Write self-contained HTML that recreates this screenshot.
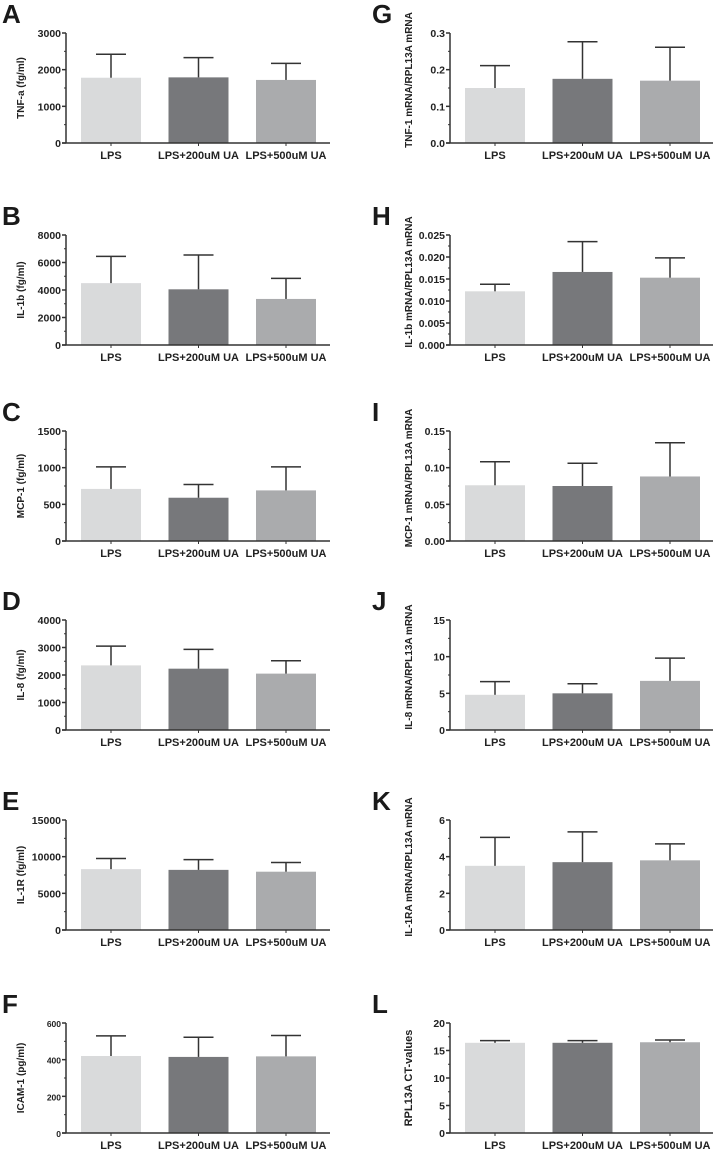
<!DOCTYPE html>
<html><head><meta charset="utf-8">
<style>
html,body{margin:0;padding:0;background:#fff;}
svg{display:block;font-family:"Liberation Sans",Arial,sans-serif;font-weight:bold;}
</style></head>
<body>
<svg id="fig" width="713" height="1149" viewBox="0 0 713 1149" xmlns="http://www.w3.org/2000/svg"></svg>
<script>
const categories = ["LPS", "LPS+200uM UA", "LPS+500uM UA"];
const panelLetters = ["A","B","C","D","E","F","G","H","I","J","K","L"];
const yTitles = ["TNF-a  (fg/ml)","IL-1b (fg/ml)","MCP-1  (fg/ml)","IL-8  (fg/ml)","IL-1R (fg/ml)","ICAM-1 (pg/ml)",
  "TNF-1 mRNA/RPL13A mRNA","IL-1b mRNA/RPL13A mRNA","MCP-1 mRNA/RPL13A mRNA","IL-8 mRNA/RPL13A mRNA","IL-1RA mRNA/RPL13A mRNA","RPL13A CT-values"];
const yMax = [3000,8000,1500,4000,15000,600,0.3,0.025,0.15,15,6,20];
const yStep = [1000,2000,500,1000,5000,200,0.1,0.005,0.05,5,2,5];
const tickDecimals = [0,0,0,0,0,0,1,3,2,0,0,0];
const means = [
  [1780,1790,1720],[4500,4050,3350],[710,590,690],[2350,2230,2050],[8300,8200,7950],[420,415,418],
  [0.150,0.175,0.170],[0.0122,0.0166,0.0153],[0.076,0.075,0.088],[4.8,5.0,6.7],[3.5,3.7,3.8],[16.4,16.4,16.5]];
const errTops = [
  [2420,2330,2170],[6450,6550,4850],[1010,770,1010],[3050,2930,2520],[9750,9600,9200],[530,522,532],
  [0.211,0.276,0.261],[0.0138,0.0235,0.0198],[0.108,0.106,0.134],[6.6,6.3,9.8],[5.05,5.35,4.7],[16.8,16.8,16.9]];

const svg = document.getElementById('fig');
const NS = "http://www.w3.org/2000/svg";
const colors = ["#d9dadb","#77787b","#aaabad"];
const rowTops = [33,235,431,620,820,1023];
const H = 110;
function mk(tag, attrs, parent){
  const e = document.createElementNS(NS, tag);
  for (const k in attrs) e.setAttribute(k, attrs[k]);
  (parent||svg).appendChild(e);
  return e;
}
for (let p = 0; p < 12; p++) {
  const col = p < 6 ? 0 : 1, row = p % 6;
  const ox = col === 0 ? 66 : 450;
  const top = rowTops[row], bot = top + H;
  const g = mk('g', {});
  
  
  const y = v => bot - v / yMax[p] * H;
  const xBar = i => ox + 15 + i * 87.5;
  const bw = 60;
  const L = mk('text', {x: col===0?2:372, y: top - 10, 'font-size': 26, fill: '#1a1a1a'}, g);
  L.textContent = panelLetters[p];
  
  
  for (let i = 0; i < 3; i++) {
    const r = mk('rect', {x: xBar(i), y: y(means[p][i]), width: bw, height: bot - y(means[p][i]), fill: colors[i]}, g);
    
    
    const cx = xBar(i) + bw/2;
    const e1 = mk('line', {x1: cx, x2: cx, y1: y(means[p][i]), y2: y(errTops[p][i]), stroke: '#333', 'stroke-width': 1.5}, g);
    
    
    mk('line', {x1: cx-15, x2: cx+15, y1: y(errTops[p][i]), y2: y(errTops[p][i]), stroke: '#333', 'stroke-width': 1.5}, g);
    const t = mk('text', {x: cx, y: bot + 16, 'font-size': 11, 'text-anchor': 'middle', fill: '#222'}, g);
    t.textContent = categories[i];
    
    
  }
  const ya = mk('line', {x1: ox, x2: ox, y1: top, y2: bot, stroke: '#333', 'stroke-width': 1.5}, g);
  
  
  const xa = mk('line', {x1: ox-4, x2: ox + 264, y1: bot, y2: bot, stroke: '#333', 'stroke-width': 1.5}, g);
  
  
  for (let i = 0; i < 3; i++) {
    const cx = xBar(i) + bw/2;
    mk('line', {x1: cx, x2: cx, y1: bot, y2: bot+3, stroke: '#333', 'stroke-width': 1}, g);
  }
  const n = Math.round(yMax[p] / yStep[p]);
  for (let k = 0; k <= n; k++) {
    const v = k * yStep[p];
    mk('line', {x1: ox-4, x2: ox, y1: y(v), y2: y(v), stroke: '#333', 'stroke-width': 1.5}, g);
    if (k < n) mk('line', {x1: ox-2, x2: ox, y1: y(v + yStep[p]/2), y2: y(v + yStep[p]/2), stroke: '#333', 'stroke-width': 1}, g);
    const t = mk('text', {x: ox - 5, y: y(v) + 4, 'font-size': p===5 ? 8.5 : 10.5, 'text-anchor': 'end', fill: '#222'}, g);
    t.textContent = v.toFixed(tickDecimals[p]);
    
    
  }
  const tx = col === 0 ? 24 : 412;
  const ty = (top + bot) / 2 - (col === 1 && p !== 11 ? 8 : 0);
  const yt = mk('text', {x: tx, y: ty, 'font-size': p === 11 ? 11 : 10, 'text-anchor': 'middle', fill: '#222', transform: `rotate(-90 ${tx} ${ty})`}, g);
  yt.textContent = yTitles[p];
  
  
}
</script>
</body></html>
